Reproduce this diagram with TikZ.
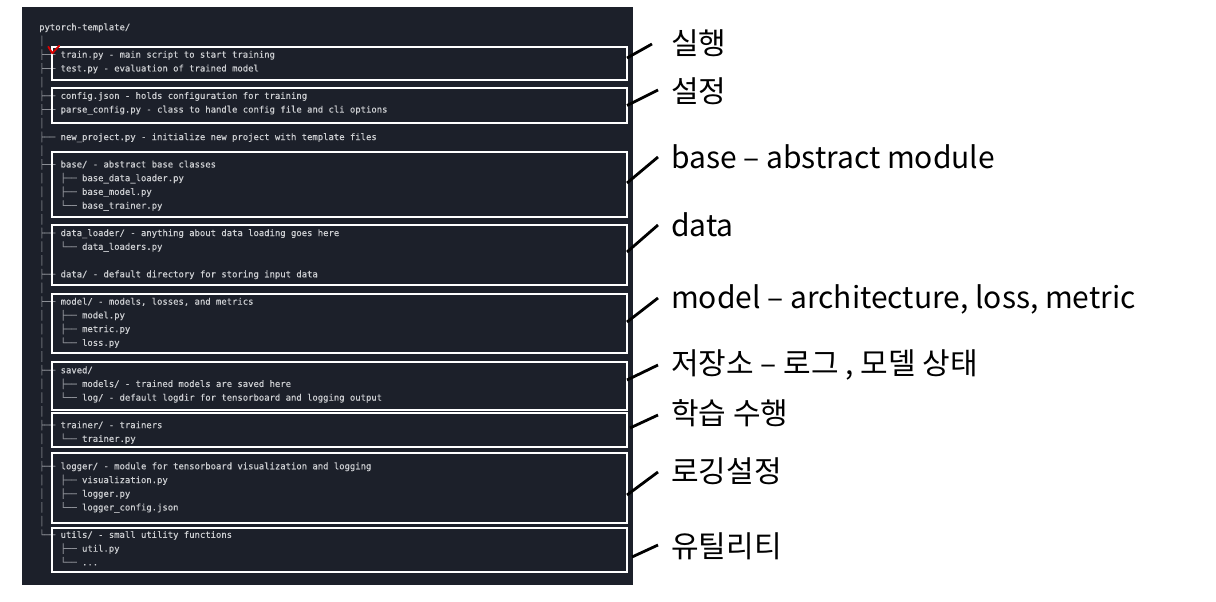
\documentclass[tikz,border=0pt]{standalone}
\usepackage{fontspec}
\newfontfamily\codefont{DejaVu Sans Mono}[FakeBold=0.35]
\newfontfamily\krfont{Noto Sans CJK KR}
\usetikzlibrary{calc}
\definecolor{panelc}{RGB}{28,32,42}
\definecolor{txtc}{RGB}{205,207,210}
\definecolor{treec}{RGB}{140,143,150}
\newcommand{\tr}[1]{\textcolor{treec}{#1}}
\begin{document}
\begin{tikzpicture}[x=1pt,y=-1pt,
  ln/.style={anchor=west, inner sep=0pt, text=txtc, font=\codefont\fontsize{8.9}{10}\selectfont, text height=6.5pt, text depth=2pt},
  hbox/.style={draw=white, line width=2.4pt, anchor=north west, minimum width=575pt, inner sep=0pt, outer sep=0pt},
  lab/.style={anchor=west, inner sep=0pt, font=\krfont\fontsize{30}{36}\selectfont, text height=24pt, text depth=3pt},
  conn/.style={draw=black, line width=2.8pt}]
\useasboundingbox (0,0) rectangle (1216,602);
\fill[white] (0,0) rectangle (1216,602);
\fill[panelc] (22,7) rectangle (633,585);

% tree text
\node[ln] (t0) at (39,28.0) {pytorch-template/};
\node[ln] (t1) at (39,41.7) {\tr{│}};
\node[ln] (t2) at (39,55.4) {\tr{├──}~train.py - main script to start training};
\node[ln] (t3) at (39,69.2) {\tr{├──}~test.py - evaluation of trained model};
\node[ln] (t4) at (39,82.9) {\tr{│}};
\node[ln] (t5) at (39,96.6) {\tr{├──}~config.json - holds configuration for training};
\node[ln] (t6) at (39,110.3) {\tr{├──}~parse\_config.py - class to handle config file and cli options};
\node[ln] (t7) at (39,124.0) {\tr{│}};
\node[ln] (t8) at (39,137.8) {\tr{├──}~new\_project.py - initialize new project with template files};
\node[ln] (t9) at (39,151.5) {\tr{│}};
\node[ln] (t10) at (39,165.2) {\tr{├──}~base/ - abstract base classes};
\node[ln] (t11) at (39,178.9) {\tr{│~~~├──}~base\_data\_loader.py};
\node[ln] (t12) at (39,192.6) {\tr{│~~~├──}~base\_model.py};
\node[ln] (t13) at (39,206.4) {\tr{│~~~└──}~base\_trainer.py};
\node[ln] (t14) at (39,220.1) {\tr{│}};
\node[ln] (t15) at (39,233.8) {\tr{├──}~data\_loader/ - anything about data loading goes here};
\node[ln] (t16) at (39,247.5) {\tr{│~~~└──}~data\_loaders.py};
\node[ln] (t17) at (39,261.2) {\tr{│}};
\node[ln] (t18) at (39,275.0) {\tr{├──}~data/ - default directory for storing input data};
\node[ln] (t19) at (39,288.7) {\tr{│}};
\node[ln] (t20) at (39,302.4) {\tr{├──}~model/ - models, losses, and metrics};
\node[ln] (t21) at (39,316.1) {\tr{│~~~├──}~model.py};
\node[ln] (t22) at (39,329.8) {\tr{│~~~├──}~metric.py};
\node[ln] (t23) at (39,343.6) {\tr{│~~~└──}~loss.py};
\node[ln] (t24) at (39,357.3) {\tr{│}};
\node[ln] (t25) at (39,371.0) {\tr{├──}~saved/};
\node[ln] (t26) at (39,384.7) {\tr{│~~~├──}~models/ - trained models are saved here};
\node[ln] (t27) at (39,398.4) {\tr{│~~~└──}~log/ - default logdir for tensorboard and logging output};
\node[ln] (t28) at (39,412.2) {\tr{│}};
\node[ln] (t29) at (39,425.9) {\tr{├──}~trainer/ - trainers};
\node[ln] (t30) at (39,439.6) {\tr{│~~~└──}~trainer.py};
\node[ln] (t31) at (39,453.3) {\tr{│}};
\node[ln] (t32) at (39,467.0) {\tr{├──}~logger/ - module for tensorboard visualization and logging};
\node[ln] (t33) at (39,480.8) {\tr{│~~~├──}~visualization.py};
\node[ln] (t34) at (39,494.5) {\tr{│~~~├──}~logger.py};
\node[ln] (t35) at (39,508.2) {\tr{│~~~└──}~logger\_config.json};
\node[ln] (t36) at (39,521.9) {\tr{│}};
\node[ln] (t37) at (39,535.6) {\tr{└──}~utils/ - small utility functions};
\node[ln] (t38) at (39,549.4) {\tr{~~~~├──}~util.py};
\node[ln] (t39) at (39,563.1) {\tr{~~~~└──}~...};

% highlight boxes
\node[hbox, minimum height=33pt] (b1) at (52,47) {};
\node[hbox, minimum height=35pt] (b2) at (52,88) {};
\node[hbox, minimum height=65pt] (b3) at (52,152) {};
\node[hbox, minimum height=60pt] (b4) at (52,225) {};
\node[hbox, minimum height=59pt] (b5) at (52,294) {};
\node[hbox, minimum height=48pt] (b6) at (52,362) {};
\node[hbox, minimum height=34pt] (b7) at (52,413) {};
\node[hbox, minimum height=70pt] (b8) at (52,453) {};
\node[hbox, minimum height=44pt] (b9) at (52,528) {};

% red mark
\draw[red!85!black, line width=1.8pt, line cap=round, line join=round] (48.3,46.7) -- (52.3,53.3) -- (59.3,45.7);

% labels
\node[lab] (l1) at (671,44) {실행};
\node[lab] (l2) at (671,92) {설정};
\node[lab] (l3) at (671,158) {base – abstract module};
\node[lab] (l4) at (671,226) {data};
\node[lab] (l5) at (671,298) {model – architecture, loss, metric};
\node[lab] (l6) at (671,364) {저장소 – 로그 , 모델 상태};
\node[lab] (l7) at (671,414) {학습 수행};
\node[lab] (l8) at (671,472) {로깅설정};
\node[lab] (l9) at (671,547) {유틸리티};

% connectors
\draw[conn] ([yshift=5.5pt]b1.east) -- ([xshift=-19pt]l1.west);
\draw[conn] (b2.east) -- ([xshift=-13pt,yshift=2pt]l2.west);
\draw[conn] ([yshift=1.5pt]b3.east) -- ([xshift=-13pt,yshift=1pt]l3.west);
\draw[conn] ([yshift=3pt]b4.east) -- ([xshift=-13pt,yshift=1pt]l4.west);
\draw[conn] ([yshift=1.5pt]b5.east) -- ([xshift=-13pt]l5.west);
\draw[conn] ([yshift=6pt]b6.east) -- ([xshift=-13pt,yshift=-1pt]l6.west);
\draw[conn] ([xshift=3pt,yshift=2pt]b7.east) -- ([xshift=-13pt,yshift=-1pt]l7.west);
\draw[conn] ([yshift=-7pt]b8.east) -- ([xshift=-13pt]l8.west);
\draw[conn] ([xshift=5pt,yshift=-7pt]b9.east) -- ([xshift=-13pt,yshift=2pt]l9.west);
\end{tikzpicture}
\end{document}
